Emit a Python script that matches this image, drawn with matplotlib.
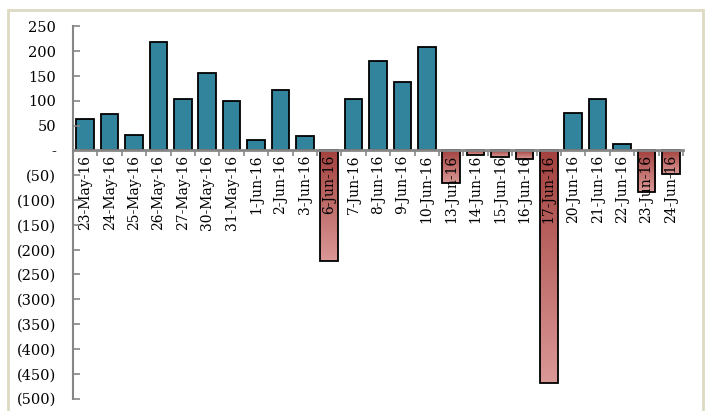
import numpy as np
import matplotlib
matplotlib.use("Agg")
import matplotlib.pyplot as plt
from matplotlib.colors import LinearSegmentedColormap
from matplotlib.patches import Rectangle
from matplotlib.ticker import FixedLocator, FuncFormatter

# Data
dates = ["23-May-16", "24-May-16", "25-May-16", "26-May-16", "27-May-16",
         "30-May-16", "31-May-16", "1-Jun-16", "2-Jun-16", "3-Jun-16",
         "6-Jun-16", "7-Jun-16", "8-Jun-16", "9-Jun-16", "10-Jun-16",
         "13-Jun-16", "14-Jun-16", "15-Jun-16", "16-Jun-16", "17-Jun-16",
         "20-Jun-16", "21-Jun-16", "22-Jun-16", "23-Jun-16", "24-Jun-16"]
values = [63, 74, 31, 219, 104,
          156, 100, 21, 122, 29,
          -223, 104, 180, 138, 209,
          -65, -10, -14, -17, -468,
          75, 103, 13, -84, -47]
y_ticks = [250, 200, 150, 100, 50, 0, -50, -100, -150, -200, -250,
           -300, -350, -400, -450, -500]

plt.rcParams["font.family"] = ["DejaVu Serif"]

fig = plt.figure(figsize=(7.07, 4.11), dpi=100)
ax = fig.add_axes([73 / 707, 1 - 398.5 / 411, 610 / 707, 372 / 411])

# figure border
fig.patches.append(Rectangle((8 / 707, -0.05), 695 / 707, 1 - 10 / 411 + 0.05,
                             transform=fig.transFigure, fill=False,
                             edgecolor="#DDD9C3", linewidth=2))

x = np.arange(len(values))
width = 0.72
teal = "#31849B"
red_cmap = LinearSegmentedColormap.from_list("reds", ["#A3423F", "#DA9896"])
grad = np.linspace(0, 1, 100).reshape(-1, 1)

for xi, v in zip(x, values):
    if v >= 0:
        ax.bar(xi, v, width=width, color=teal, edgecolor="black",
               linewidth=1.3, zorder=1)
    else:
        ax.imshow(grad, cmap=red_cmap, aspect="auto", origin="upper",
                  extent=(xi - width / 2, xi + width / 2, v, 0), zorder=0.9)
        ax.bar(xi, v, width=width, facecolor="none", edgecolor="black",
               linewidth=1.3, zorder=1)

ax.set_xlim(-0.5, len(values) - 0.5)
ax.set_ylim(-500, 250)

# axes styling
for s in ["top", "right"]:
    ax.spines[s].set_visible(False)
ax.spines["bottom"].set_position(("data", 0))
ax.spines["left"].set_color("#868686")
ax.spines["bottom"].set_color("#868686")
ax.spines["left"].set_linewidth(1.5)
ax.spines["bottom"].set_linewidth(2)

ax.set_xticks(x)
ax.set_xticklabels(dates, rotation=90, fontsize=10)
ax.tick_params(axis="x", which="major", length=0, pad=3)
ax.xaxis.set_minor_locator(FixedLocator(np.arange(-0.5, len(values), 1)))
ax.tick_params(axis="x", which="minor", length=4, direction="out",
               color="#868686", width=1.2)

ax.set_yticks(y_ticks)
ax.yaxis.set_major_formatter(FuncFormatter(
    lambda v, p: "-" if v == 0 else (f"({int(-v)})" if v < 0 else f"{int(v)}")))
ax.tick_params(axis="y", direction="in", length=5, color="#868686",
               width=1.2, labelsize=10.5, pad=12)

fig.savefig("out.png", dpi=100)
